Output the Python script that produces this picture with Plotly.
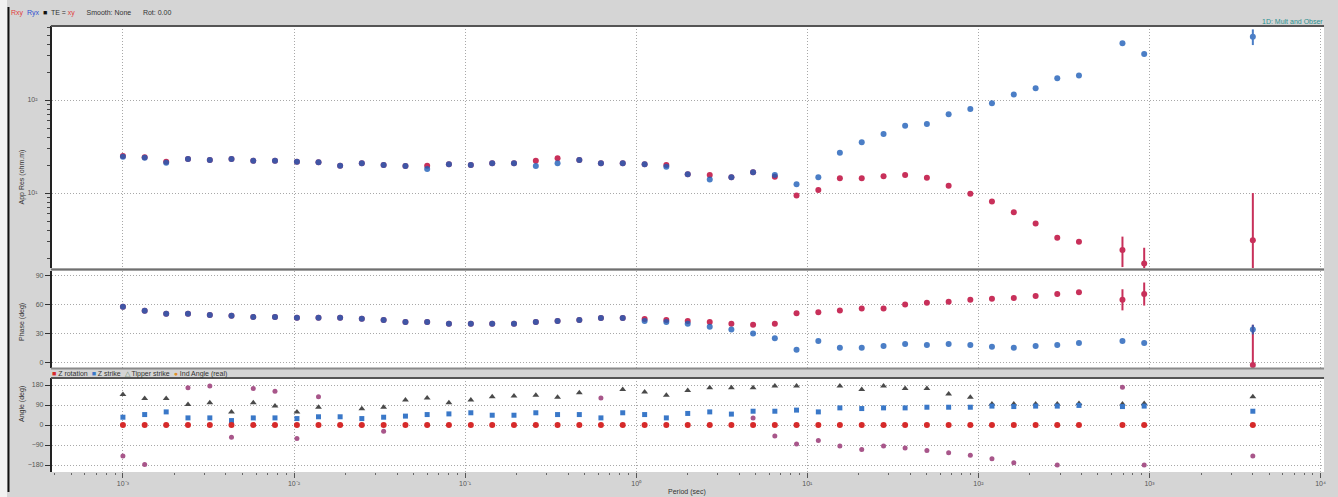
import plotly.graph_objects as go
from plotly.subplots import make_subplots

W, H = 1338, 497


def fx(p):
    return p / W


def fy(p):
    return 1 - p / H


# ---- data -------------------------------------------------------------
period = [0.001, 0.00134, 0.00179, 0.00240, 0.00322, 0.00431, 0.00578, 0.00774,
          0.0104, 0.0139, 0.0186, 0.0249, 0.0334, 0.0448, 0.0600, 0.0804,
          0.108, 0.144, 0.193, 0.259, 0.347, 0.465, 0.622, 0.834,
          1.12, 1.50, 2.00, 2.69, 3.60, 4.82, 6.46, 8.65,
          11.6, 15.5, 20.8, 27.9, 37.3, 50.0, 67.0, 89.7,
          120, 161, 216, 289, 387, 695, 931, 4018]

rho_xy = [25.0, 24.2, 21.7, 23.2, 22.6, 23.2, 22.2, 22.2,
          21.7, 21.4, 19.7, 20.9, 20.0, 19.5, 19.7, 20.4,
          20.0, 20.9, 20.9, 22.2, 23.6, 22.6, 20.9, 20.9,
          20.4, 20.0, 15.9, 15.6, 14.8, 16.7, 15.0, 9.4,
          10.8, 14.4, 14.4, 15.2, 15.6, 14.6, 12.0, 9.8,
          8.1, 6.2, 4.7, 3.3, 3.0, 2.44, 1.75, 3.1]
rho_xy_err_up = [0] * 45 + [0.96, 0.83, 6.9]
rho_xy_err_dn = [0] * 45 + [0.84, 0.5, 1.55]

rho_yx = [24.5, 24.0, 21.2, 23.2, 22.6, 23.2, 22.2, 22.2,
          21.7, 21.4, 19.7, 20.9, 20.0, 19.5, 18.1, 20.4,
          20.0, 20.9, 20.9, 19.5, 20.9, 22.6, 20.9, 20.9,
          20.4, 19.2, 15.9, 14.0, 14.8, 16.7, 15.6, 12.4,
          14.8, 27.1, 35.1, 43.1, 53.0, 55.2, 70.2, 80.0,
          92.2, 115, 134, 171, 183, 407, 313, 480]
rho_yx_err_up = [0] * 47 + [95]
rho_yx_err_dn = [0] * 47 + [90]

phase_xy = [57.7, 53.5, 50.4, 50.4, 49.3, 48.3, 47.2, 47.2,
            46.2, 46.2, 46.2, 45.2, 44.1, 42.0, 42.0, 40.0,
            40.0, 40.0, 40.0, 42.0, 43.0, 44.0, 46.0, 46.0,
            45.0, 44.0, 43.0, 42.0, 40.0, 39.0, 40.0, 51.0,
            52.0, 54.0, 56.0, 56.0, 60.0, 62.0, 63.0, 65.0,
            66.0, 67.0, 69.0, 71.0, 73.0, 65.0, 71.0, -3.0]
phase_xy_err_up = [0] * 45 + [11, 12, 42]
phase_xy_err_dn = [0] * 45 + [11, 12, 2]

phase_yx = [57.7, 53.5, 50.4, 50.4, 49.3, 48.3, 47.2, 47.2,
            46.2, 46.2, 46.2, 45.2, 44.1, 42.0, 42.0, 40.0,
            40.0, 40.0, 40.0, 42.0, 43.0, 44.0, 46.0, 46.0,
            43.0, 42.0, 40.0, 37.0, 34.0, 30.0, 25.0, 13.0,
            22.0, 15.0, 15.0, 17.0, 19.0, 18.0, 19.0, 18.0,
            16.0, 15.0, 17.0, 18.0, 20.0, 22.0, 20.0, 34.0]
phase_yx_err = [0] * 47 + [5]

z_rotation = [0.0] * 48

z_strike = [35, 47, 59, 32, 32, 20, 32, 32,
            29, 37, 37, 29, 35, 40, 47, 50,
            55, 44, 44, 55, 47, 47, 32, 55,
            47, 32, 52, 59, 49, 62, 62, 67,
            59, 77, 74, 77, 77, 80, 80, 80,
            85, 83, 85, 85, 88, 83, 85, 62]

tipper_strike = [137, 119, 119, 92, 100, 59, 100, 85,
                 59, 80, None, 73, 80, 112, 122, 100,
                 112, 127, 130, 134, 125, 145, None, 160,
                 148, 134, 155, 168, 168, 168, 175, 175,
                 None, 175, 160, 175, 164, 164, 140, 125,
                 95, 95, 95, 95, 97, 95, 97, 127]

ind_angle_real = [-140, -178, None, 168, 175, -55, 164, 152,
                  -61, 127, None, None, -28, None, None, None,
                  None, None, None, None, None, None, 122, None,
                  None, None, None, None, None, 32, -50, -85,
                  -70, -95, -110, -95, -103, -115, -125, -136,
                  -152, -170, None, -180, None, 170, -180, -140]

decades = [1e-3, 1e-2, 1e-1, 1, 10, 100, 1e3, 1e4]
decade_text = ["10⁻³", "10⁻²", "10⁻¹", "10⁰", "10¹", "10²", "10³", "10⁴"]
x_minor = [m * d for d in [1e-4, 1e-3, 1e-2, 1e-1, 1, 10, 100, 1e3] for m in range(2, 10)]
rho_minor = [m * d for d in [1, 10, 100] for m in range(2, 10)]

RED = "#c8305a"
BLUE = "#1f5fb8"
FONT = "Liberation Sans, Arial, sans-serif"

fig = make_subplots(rows=3, cols=1, shared_xaxes=True)

# ---- apparent resistivity ---------------------------------------------
fig.add_trace(go.Scatter(
    x=period, y=rho_xy, mode="markers", name="Rxy",
    marker=dict(color=RED, size=6),
    error_y=dict(type="data", symmetric=False, array=rho_xy_err_up,
                 arrayminus=rho_xy_err_dn, color=RED, thickness=2, width=0),
), row=1, col=1)
fig.add_trace(go.Scatter(
    x=period, y=rho_yx, mode="markers", name="Ryx",
    marker=dict(color=BLUE, size=6), opacity=0.8,
    error_y=dict(type="data", symmetric=False, array=rho_yx_err_up,
                 arrayminus=rho_yx_err_dn, color=BLUE, thickness=2, width=0),
), row=1, col=1)

# ---- phase ------------------------------------------------------------
fig.add_trace(go.Scatter(
    x=period, y=phase_xy, mode="markers", name="Pxy",
    marker=dict(color=RED, size=6),
    error_y=dict(type="data", symmetric=False, array=phase_xy_err_up,
                 arrayminus=phase_xy_err_dn, color=RED, thickness=2, width=0),
), row=2, col=1)
fig.add_trace(go.Scatter(
    x=period, y=phase_yx, mode="markers", name="Pyx",
    marker=dict(color=BLUE, size=6), opacity=0.8,
    error_y=dict(type="data", array=phase_yx_err, color=BLUE, thickness=2, width=0),
), row=2, col=1)

# ---- angles -----------------------------------------------------------
fig.add_trace(go.Scatter(
    x=period, y=ind_angle_real, mode="markers", name="Ind Angle (real)",
    marker=dict(color="#a8568a", size=5),
), row=3, col=1)
fig.add_trace(go.Scatter(
    x=period, y=tipper_strike, mode="markers", name="Tipper strike",
    marker=dict(color="#4a4a4a", size=6, symbol="triangle-up"),
), row=3, col=1)
fig.add_trace(go.Scatter(
    x=period, y=z_strike, mode="markers", name="Z strike",
    marker=dict(color="#3a78c8", size=5, symbol="square"),
), row=3, col=1)
fig.add_trace(go.Scatter(
    x=period, y=z_rotation, mode="markers", name="Z rotation",
    marker=dict(color="#d62a2a", size=6),
), row=3, col=1)

grid = dict(showgrid=True, gridcolor="#a8a8a8", griddash="1px,2px", gridwidth=1)
tickfont = dict(family=FONT, size=7, color="#555")
xr = [-3.415, 4.02]

fig.update_layout(
    width=W, height=H,
    margin=dict(l=0, r=0, t=0, b=0),
    paper_bgcolor="#d5d5d5", plot_bgcolor="white",
    showlegend=False,
    xaxis=dict(domain=[fx(52), fx(1326)], type="log", range=xr, tickvals=decades,
               showticklabels=False, ticks="", zeroline=False, **grid),
    xaxis2=dict(domain=[fx(52), fx(1326)], type="log", range=xr, tickvals=decades,
                showticklabels=False, ticks="", zeroline=False, **grid),
    xaxis3=dict(domain=[fx(52), fx(1326)], type="log", range=xr, tickvals=decades,
                ticktext=decade_text, ticks="outside", ticklen=5, tickcolor="#555",
                tickfont=tickfont, zeroline=False,
                minor=dict(tickvals=x_minor, ticks="outside", ticklen=2,
                           tickcolor="#666", showgrid=False),
                **grid),
    yaxis=dict(domain=[fy(268), fy(26)], type="log", range=[0.194, 2.796],
               tickvals=[10, 100], ticktext=["10¹", "10²"],
               ticks="outside", ticklen=5, tickcolor="#333", tickfont=tickfont,
               showline=True, linecolor="#222", linewidth=2, zeroline=False,
               ticklabelstandoff=6,
               minor=dict(tickvals=rho_minor, ticks="outside", ticklen=3,
                          tickcolor="#444", showgrid=False),
               **grid),
    yaxis2=dict(domain=[fy(368), fy(271)], range=[-6, 95],
                tickvals=[0, 30, 60, 90], ticks="outside", ticklen=5,
                tickcolor="#333", tickfont=tickfont, showline=True,
                linecolor="#222", linewidth=2, zeroline=False, **grid),
    yaxis3=dict(domain=[fy(472), fy(378)], range=[-211.5, 211.5],
                tickvals=[-180, -90, 0, 90, 180], ticks="outside", ticklen=5,
                tickcolor="#333", tickfont=tickfont, showline=True,
                linecolor="#222", linewidth=2, zeroline=False, **grid),
)

# panel borders and window frame
shapes = [
    dict(type="rect", xref="paper", yref="paper", x0=0, x1=fx(7), y0=0, y1=1,
         fillcolor="#f2f2f2", line=dict(width=0), layer="below"),
    dict(type="line", xref="paper", yref="paper", x0=fx(8.5), x1=fx(8.5),
         y0=fy(492), y1=fy(7), line=dict(color="#111", width=2)),
    dict(type="line", xref="paper", yref="paper", x0=fx(51), x1=fx(1326),
         y0=fy(26), y1=fy(26), line=dict(color="#555", width=2)),
    dict(type="line", xref="paper", yref="paper", x0=fx(51), x1=fx(1326),
         y0=fy(269.5), y1=fy(269.5), line=dict(color="#707070", width=2)),
    dict(type="line", xref="paper", yref="paper", x0=fx(51), x1=fx(1326),
         y0=fy(368.5), y1=fy(368.5), line=dict(color="#8a8a8a", width=2)),
    dict(type="line", xref="paper", yref="paper", x0=fx(51), x1=fx(1326),
         y0=fy(378), y1=fy(378), line=dict(color="#555", width=2)),
]
fig.update_layout(shapes=shapes)

ann_font = dict(family=FONT, size=7, color="#333")
annotations = [
    dict(x=fx(9), y=fy(13), xref="paper", yref="paper", xanchor="left", yanchor="middle",
         showarrow=False, font=ann_font,
         text='<span style="color:#e04040">Rxy</span>  <span style="color:#3050d0">Ryx</span>  '
              '<span style="color:#111">■</span>  TE = <span style="color:#e04040">xy</span>'
              '      Smooth: None      Rot: 0.00'),
    dict(x=fx(1327), y=fy(22), xref="paper", yref="paper", xanchor="right", yanchor="middle",
         showarrow=False, font=dict(family=FONT, size=7, color="#2a9090"),
         text="1D: Mult and Obser"),
    dict(x=fx(16), y=fy(147), xref="paper", yref="paper", textangle=-90, showarrow=False,
         font=ann_font, text="App Res (ohm.m)"),
    dict(x=fx(16), y=fy(322), xref="paper", yref="paper", textangle=-90, showarrow=False,
         font=ann_font, text="Phase (deg)"),
    dict(x=fx(16), y=fy(424), xref="paper", yref="paper", textangle=-90, showarrow=False,
         font=ann_font, text="Angle (deg)"),
    dict(x=fx(50), y=fy(373.5), xref="paper", yref="paper", xanchor="left", yanchor="middle",
         showarrow=False, font=ann_font,
         text='<span style="color:#d62a2a">■</span> Z rotation  '
              '<span style="color:#3a78c8">■</span> Z strike  '
              '<span style="color:#6a8a6a">△</span> Tipper strike  '
              '<span style="color:#e0902a">●</span> Ind Angle (real)'),
    dict(x=fx(688), y=fy(492), xref="paper", yref="paper", xanchor="center", yanchor="middle",
         showarrow=False, font=ann_font, text="Period (sec)"),
]
fig.update_layout(annotations=annotations)

fig.write_html("out.html")
